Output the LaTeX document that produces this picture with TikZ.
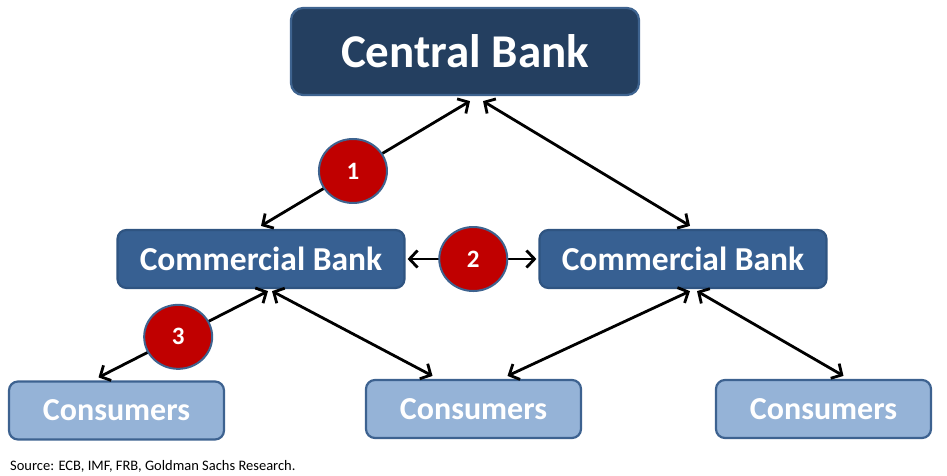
\documentclass[tikz,border=0pt]{standalone}
\usepackage{fontspec}
\setmainfont{Carlito}
\usetikzlibrary{arrows.meta,shapes.geometric}
\definecolor{cbfill}{HTML}{243F60}
\definecolor{cbline}{HTML}{3E638F}
\definecolor{combfill}{HTML}{376092}
\definecolor{combline}{HTML}{2F5481}
\definecolor{confill}{HTML}{95B3D7}
\definecolor{conline}{HTML}{3D6290}
\definecolor{numfill}{HTML}{C00000}
\tikzset{
  box/.style={rectangle, inner sep=0pt, line width=2.2pt, text=white, font=\bfseries},
  central/.style={box, draw=cbline, fill=cbfill, rounded corners=12pt, minimum width=348pt, minimum height=87pt, font=\fontsize{47}{52}\selectfont\bfseries},
  commercial/.style={box, draw=combline, fill=combfill, rounded corners=9pt, minimum width=287pt, minimum height=58pt, font=\fontsize{33.5}{38}\selectfont\bfseries},
  consumer/.style={box, draw=conline, fill=confill, rounded corners=9pt, minimum width=215pt, minimum height=58pt, font=\fontsize{32}{36}\selectfont\bfseries},
  conn/.style={line width=2.8pt, black, {Straight Barb[length=8pt,width=17pt,line width=2.8pt]}-{Straight Barb[length=8pt,width=17pt,line width=2.8pt]}},
  num/.style={ellipse, draw=cbline, fill=numfill, line width=2pt, minimum width=68pt, minimum height=64pt, inner sep=0pt, text=white, font=\fontsize{25}{28}\selectfont\bfseries}
}
\begin{document}
\begin{tikzpicture}[x=1pt,y=-1pt]
\useasboundingbox (0,0) rectangle (947,475);
\node[central] (cb) at (465,51.5) {Central Bank};
\node[commercial] (cbl) at (261,259) {Commercial Bank};
\node[commercial] (cbr) at (683,259) {Commercial Bank};
\node[consumer] (con1) at (116.5,410.5) {Consumers};
\node[consumer] (con2) at (473.5,409) {Consumers};
\node[consumer] (con3) at (823.5,409) {Consumers};

\draw[conn] ([xshift=5pt,yshift=-5pt]cb.south) -- ([yshift=3pt]cbl.north)
  node[num,pos=0.56] (n1) {1};
\draw[conn] ([xshift=18pt,yshift=-5pt]cb.south) -- ([xshift=7pt,yshift=3pt]cbr.north);
\draw[conn] ([xshift=2pt]cbl.east) -- ([xshift=-2pt]cbr.west)
  node[num,pos=0.51] (n2) {2};
\draw[conn] ([xshift=7pt,yshift=-2pt]cbl.south) -- ([xshift=-18pt,yshift=3pt]con1.north)
  node[num,pos=0.53] (n3) {3};
\draw[conn] ([xshift=11pt,yshift=-2pt]cbl.south) -- ([xshift=-41pt,yshift=3pt]con2.north);
\draw[conn] ([xshift=7pt,yshift=-2pt]cbr.south) -- ([xshift=34pt,yshift=3pt]con2.north);
\draw[conn] ([xshift=14pt,yshift=-2pt]cbr.south) -- ([xshift=20pt,yshift=3pt]con3.north);

\node[anchor=base west, inner sep=0pt, font=\fontsize{14.5}{16}\selectfont] (src) at (10,470) {Source: ECB, IMF, FRB, Goldman Sachs Research.};
\end{tikzpicture}
\end{document}
